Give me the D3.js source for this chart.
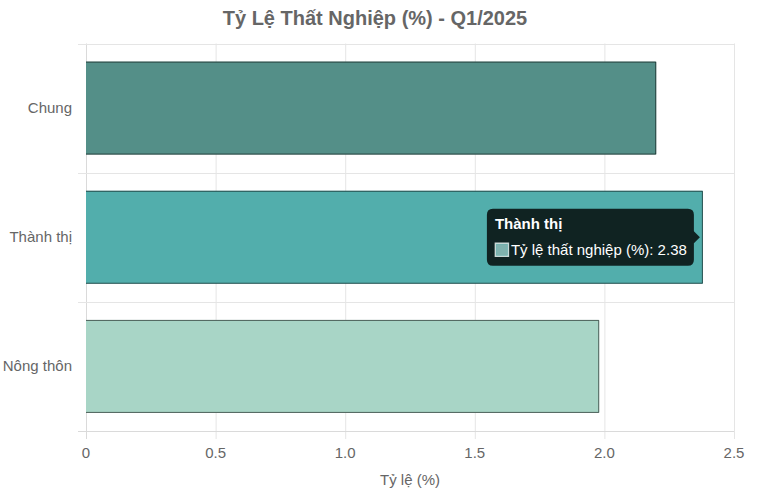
<!DOCTYPE html>
<html><head><meta charset="utf-8">
<script src="https://cdn.jsdelivr.net/npm/d3@7"></script>
<style>
html,body{margin:0;padding:0;background:#fff;}
svg{display:block;font-family:"Liberation Sans",Arial,sans-serif;}
</style></head>
<body><svg id="c" width="764" height="491"></svg>
<script>
const categories = ["Chung", "Thành thị", "Nông thôn"];
const values = [2.20, 2.38, 1.98];
const colors = ["#548f88", "#52aeac", "#a8d5c6"];
const xTicks = [0, 0.5, 1.0, 1.5, 2.0, 2.5];
const xTickLabels = ["0", "0.5", "1.0", "1.5", "2.0", "2.5"];
const title = "Tỷ Lệ Thất Nghiệp (%) - Q1/2025";
const xTitle = "Tỷ lệ (%)";
const seriesName = "Tỷ lệ thất nghiệp (%)";
const tooltipIndex = 1;

const svg = d3.select("#c");
const m = {l:86, r:734, t:43.5, b:431};
const x = d3.scaleLinear().domain([0, 2.5]).range([m.l, m.r]);
const y = d3.scaleBand().domain(categories).range([m.t, m.b]).paddingInner(0).paddingOuter(0);
const grid = "#e5e5e5";
const fs = 15;

// title
svg.append("text").attr("x", 375).attr("y", 25).attr("text-anchor","middle")
  .attr("font-size", 20).attr("font-weight","bold").attr("fill","#666").text(title);

// vertical grid + ticks
const g = svg.append("g");
xTicks.forEach((t,i)=>{
  g.append("line").attr("x1", x(t)+0.5).attr("x2", x(t)+0.5).attr("y1", m.t).attr("y2", m.b+8)
    .attr("stroke", i===0 ? "#dadada" : grid).attr("stroke-width",1);
  svg.append("text").attr("x", x(t)).attr("y", 458).attr("text-anchor","middle")
    .attr("font-size", fs).attr("fill","#666").text(xTickLabels[i]);
});
// horizontal grid lines (band boundaries)
const bounds = categories.map(c=>y(c)).concat([m.b]);
bounds.forEach((b,i)=>{
  g.append("line").attr("x1", m.l-8).attr("x2", m.r).attr("y1", Math.round(b)+0.5).attr("y2", Math.round(b)+0.5)
    .attr("stroke", i===bounds.length-1 ? "#dadada" : grid);
});

// y labels
categories.forEach(c=>{
  svg.append("text").attr("x", 72).attr("y", y(c)+y.bandwidth()/2+5).attr("text-anchor","end")
    .attr("font-size", fs).attr("fill","#666").text(c);
});

// bars
const barH = y.bandwidth()*0.72;
categories.forEach((c,i)=>{
  const y0 = y(c)+(y.bandwidth()-barH)/2;
  svg.append("rect").attr("x", x(0)).attr("y", y0).attr("width", x(values[i])-x(0)).attr("height", barH)
    .attr("fill", colors[i]);
  const p = d3.path();
  p.moveTo(x(0), y0+0.5); p.lineTo(x(values[i])-0.5, y0+0.5); p.lineTo(x(values[i])-0.5, y0+barH-0.5); p.lineTo(x(0), y0+barH-0.5);
  svg.append("path").attr("d", p.toString()).attr("fill","none").attr("stroke","rgba(0,0,0,0.55)").attr("stroke-width",1);
});

// axis title
svg.append("text").attr("x", (m.l+m.r)/2).attr("y", 485).attr("text-anchor","middle")
  .attr("font-size", fs).attr("fill","#666").text(xTitle);

// tooltip
const ti = tooltipIndex;
const cx = x(values[ti]) - 3, cy = y(categories[ti]) + y.bandwidth()/2;
const tw = 207, th = 57;
const tx = cx - 6 - tw, ty = cy - th/2;
const tt = svg.append("g");
const tp = d3.path();
const r = 6;
tp.moveTo(tx+r, ty); tp.lineTo(tx+tw-r, ty); tp.quadraticCurveTo(tx+tw, ty, tx+tw, ty+r);
tp.lineTo(tx+tw, cy-6); tp.lineTo(tx+tw+6, cy); tp.lineTo(tx+tw, cy+6);
tp.lineTo(tx+tw, ty+th-r); tp.quadraticCurveTo(tx+tw, ty+th, tx+tw-r, ty+th);
tp.lineTo(tx+r, ty+th); tp.quadraticCurveTo(tx, ty+th, tx, ty+th-r);
tp.lineTo(tx, ty+r); tp.quadraticCurveTo(tx, ty, tx+r, ty); tp.closePath();
tt.append("path").attr("d", tp.toString()).attr("fill","rgba(0,0,0,0.8)");
tt.append("text").attr("x", tx+8).attr("y", ty+20).attr("fill","#fff").attr("font-size",fs).attr("font-weight","bold").text(categories[ti]);
tt.append("rect").attr("x", tx+8.5).attr("y", ty+34.5).attr("width",13).attr("height",13).attr("fill", colors[ti]).attr("stroke","#c8d8d6").attr("stroke-width",1.5);
tt.append("rect").attr("x", tx+9.5).attr("y", ty+35.5).attr("width",11).attr("height",11).attr("fill","#7fb2ae");
tt.append("text").attr("x", tx+24).attr("y", ty+46).attr("fill","#fff").attr("font-size",fs).text(seriesName + ": " + values[ti].toFixed(2));
</script></body></html>
